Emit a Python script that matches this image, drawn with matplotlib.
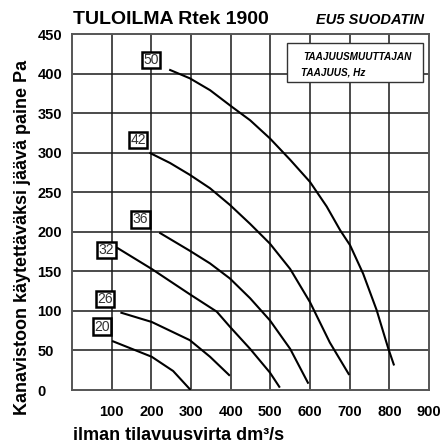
import matplotlib

matplotlib.use("Agg")
import matplotlib.pyplot as plt

# curves: (air flow dm3/s, pressure Pa), one per frequency
freqs = ["50", "42", "36", "32", "26", "20"]
flow_50 = [245, 297, 348, 403, 449, 499, 550, 600, 642, 676, 701, 734, 768, 797, 812]
pres_50 = [405, 394, 379, 358, 341, 318, 291, 263, 232, 202, 183, 147, 101, 53, 31]
flow_42 = [195, 247, 297, 348, 398, 449, 499, 550, 600, 650, 699]
pres_42 = [300, 287, 272, 255, 234, 210, 185, 153, 111, 60, 19]
flow_36 = [220, 297, 348, 398, 449, 499, 550, 596]
pres_36 = [199, 176, 160, 141, 116, 88, 52, 8]
flow_32 = [113, 201, 297, 365, 398, 449, 499, 524]
pres_32 = [180, 153, 121, 99, 80, 52, 22, 3]
flow_26 = [122, 201, 297, 348, 398]
pres_26 = [98, 86, 63, 42, 18]
flow_20 = [101, 201, 255, 299]
pres_20 = [62, 42, 24, 0]

# label box anchors (data coords)
label_x = [200, 167, 173, 87, 83, 76]
label_y = [417, 316, 216, 177, 115, 80]

x_ticks = [100, 200, 300, 400, 500, 600, 700, 800, 900]
y_ticks = [0, 50, 100, 150, 200, 250, 300, 350, 400, 450]

curves = [(flow_50, pres_50), (flow_42, pres_42), (flow_36, pres_36),
          (flow_32, pres_32), (flow_26, pres_26), (flow_20, pres_20)]

W, H = 447, 445
fig = plt.figure(figsize=(W / 100, H / 100), dpi=100)
ax = fig.add_axes([72 / W, 1 - 390 / H, (429 - 72) / W, (390 - 34) / H])

ax.set_xlim(0, 900)
ax.set_ylim(0, 450)
for v in x_ticks[:-1]:
    ax.axvline(v, color="#1a1a1a", lw=1.1, zorder=1)
for v in y_ticks[1:-1]:
    ax.axhline(v, color="#1a1a1a", lw=1.1, zorder=1)
for s in ax.spines.values():
    s.set_color("#555555")
    s.set_linewidth(1.4)

for (fx, py) in curves:
    ax.plot(fx, py, color="black", lw=1.5, zorder=3,
            solid_capstyle="butt", solid_joinstyle="round")

for t, lx, ly in zip(freqs, label_x, label_y):
    ax.text(lx, ly, t, ha="center", va="center", fontsize=10, color="#333333",
            family="Liberation Sans", zorder=5,
            bbox=dict(boxstyle="square,pad=0.1", fc="white", ec="black", lw=1.8))

ax.set_xticks(x_ticks)
ax.set_yticks(y_ticks)
ax.tick_params(length=0)
ax.tick_params(axis="x", pad=11)
ax.tick_params(axis="y", pad=25)
for lab in ax.get_xticklabels() + ax.get_yticklabels():
    lab.set_fontsize(10.5)
    lab.set_fontweight("bold")
    lab.set_family("Liberation Sans")
for lab in ax.get_yticklabels():
    lab.set_horizontalalignment("left")

# note box in the upper right corner
ax.add_patch(plt.Rectangle((0.603, 0.864), 0.381, 0.112, transform=ax.transAxes,
                           fc="white", ec="#333333", lw=1.0, zorder=4))
ax.text(0.647, 0.935, "TAAJUUSMUUTTAJAN", transform=ax.transAxes, fontsize=7.2,
        fontweight="bold", style="italic", family="Liberation Sans",
        ha="left", va="center", zorder=6)
ax.text(0.641, 0.893, "TAAJUUS, Hz", transform=ax.transAxes, fontsize=7.2,
        fontweight="bold", style="italic", family="Liberation Sans",
        ha="left", va="center", zorder=6)

fig.text(73 / W, 1 - 24 / H, "TULOILMA Rtek 1900", fontsize=14, fontweight="bold",
         family="Liberation Sans", ha="left", va="baseline")
fig.text(424 / W, 1 - 24 / H, "EU5 SUODATIN", fontsize=10.5, fontweight="bold",
         style="italic", family="Liberation Sans", ha="right", va="baseline")
fig.text(73 / W, 1 - 436 / H, "ilman tilavuusvirta dm³/s", fontsize=13, fontweight="bold",
         family="Liberation Sans", ha="left", va="center")
fig.text(23 / W, 1 - 237 / H, "Kanavistoon käytettäväksi jäävä paine Pa", fontsize=13,
         fontweight="bold", family="Liberation Sans", rotation=90, ha="center", va="center")

fig.savefig("out.png", dpi=100)
